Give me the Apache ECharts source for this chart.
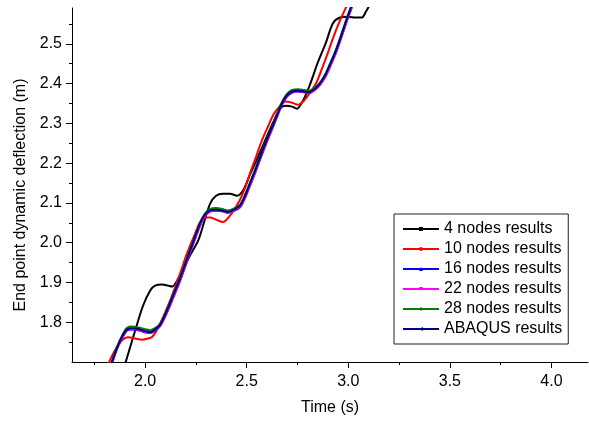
<!DOCTYPE html>
<html><head><meta charset="utf-8">
<script src="https://cdn.jsdelivr.net/npm/echarts@6/dist/echarts.min.js"></script>
<style>html,body{margin:0;padding:0;background:#fff}#c{width:589px;height:421px}</style>
</head><body><div id="c"></div>
<script>
const seriesNames = ['4 nodes results','10 nodes results','16 nodes results','22 nodes results','28 nodes results','ABAQUS results'];
const xLabelValues = [2.0, 2.5, 3.0, 3.5, 4.0];
const xMinorValues = [1.75, 2.25, 2.75, 3.25, 3.75];
const yLabelValues = [1.8, 1.9, 2.0, 2.1, 2.2, 2.3, 2.4, 2.5];
const yMinorValues = [1.75, 1.85, 1.95, 2.05, 2.15, 2.25, 2.35, 2.45, 2.55];

const time4 = [1.892,1.951,1.990,2.025,2.049,2.084,2.113,2.133,2.152,2.182,2.221,2.261,2.290,2.320,2.349,2.383,2.418,2.452,2.482,2.516,2.556,2.595,2.634,2.664,2.693,2.723,2.747,2.777,2.811,2.850,2.890,2.924,2.959,2.998,3.037,3.067,3.087,3.111];
const nodes4 = [1.679,1.779,1.842,1.880,1.892,1.895,1.892,1.890,1.900,1.930,1.968,2.005,2.051,2.098,2.118,2.123,2.123,2.118,2.131,2.171,2.216,2.262,2.307,2.337,2.344,2.342,2.337,2.357,2.397,2.453,2.503,2.551,2.566,2.568,2.566,2.566,2.581,2.603];

const time10 = [1.808,1.828,1.853,1.882,1.916,1.951,1.985,2.015,2.034,2.054,2.074,2.098,2.123,2.147,2.172,2.206,2.246,2.270,2.295,2.320,2.349,2.383,2.418,2.442,2.467,2.492,2.516,2.546,2.575,2.605,2.634,2.664,2.693,2.723,2.752,2.782,2.811,2.841,2.870,2.900,2.929,2.959,2.993];
const nodes10 = [1.679,1.706,1.731,1.752,1.762,1.759,1.756,1.759,1.763,1.777,1.797,1.824,1.855,1.887,1.922,1.973,2.023,2.051,2.063,2.063,2.058,2.052,2.068,2.086,2.108,2.138,2.174,2.216,2.257,2.292,2.324,2.344,2.355,2.352,2.347,2.357,2.377,2.400,2.437,2.478,2.520,2.558,2.596];

const timeFine = [1.823,1.843,1.862,1.887,1.911,1.936,1.966,1.995,2.025,2.049,2.074,2.103,2.138,2.172,2.221,2.270,2.295,2.320,2.349,2.379,2.408,2.438,2.467,2.492,2.516,2.541,2.565,2.595,2.624,2.649,2.673,2.698,2.723,2.752,2.782,2.806,2.831,2.860,2.885,2.909,2.939,2.968,2.993,3.018];
const nodes16 = [1.676,1.706,1.733,1.760,1.779,1.782,1.780,1.775,1.773,1.779,1.790,1.819,1.861,1.904,1.974,2.042,2.067,2.078,2.080,2.079,2.075,2.080,2.089,2.113,2.143,2.175,2.208,2.248,2.284,2.316,2.346,2.367,2.377,2.380,2.378,2.376,2.382,2.396,2.415,2.441,2.477,2.519,2.557,2.592];
const nodes22 = [1.677,1.707,1.734,1.761,1.780,1.783,1.781,1.776,1.774,1.780,1.791,1.820,1.862,1.905,1.975,2.043,2.068,2.079,2.081,2.080,2.076,2.081,2.090,2.114,2.144,2.176,2.209,2.249,2.285,2.317,2.347,2.368,2.378,2.381,2.379,2.377,2.383,2.397,2.416,2.442,2.478,2.520,2.558,2.593];
const nodes28 = [1.681,1.711,1.739,1.767,1.786,1.789,1.787,1.783,1.780,1.785,1.796,1.826,1.869,1.912,1.982,2.050,2.074,2.085,2.087,2.085,2.081,2.086,2.095,2.120,2.151,2.183,2.216,2.256,2.291,2.323,2.353,2.374,2.384,2.386,2.384,2.382,2.388,2.402,2.422,2.449,2.485,2.527,2.565,2.600];
const abaqus = [1.679,1.709,1.736,1.764,1.782,1.785,1.783,1.778,1.775,1.782,1.794,1.824,1.867,1.910,1.980,2.048,2.071,2.081,2.083,2.081,2.077,2.083,2.093,2.118,2.149,2.181,2.214,2.254,2.289,2.320,2.350,2.370,2.380,2.382,2.380,2.378,2.385,2.400,2.420,2.447,2.483,2.525,2.563,2.598];

const colors = ['#000000','#ff0000','#0000ff','#ff00ff','#008000','#000080'];
const symbols = ['rect','circle','triangle','triangle','diamond','triangle'];
const rotates = [0,0,0,180,0,90];
const times = [time4, time10, timeFine, timeFine, timeFine, timeFine];
const values = [nodes4, nodes10, nodes16, nodes22, nodes28, abaqus];

const FONT = 'Liberation Sans, Arial, sans-serif';
const chart = echarts.init(document.getElementById('c'), null, {renderer: 'canvas'});
const axisCommon = {
  axisLine: {show: true, onZero: false, lineStyle: {color: '#000', width: 1}},
  splitLine: {show: false}
};
chart.setOption({
  animation: false,
  backgroundColor: '#fff',
  grid: {left: 72, right: 1, top: 8, bottom: 59},
  xAxis: [
    Object.assign({}, axisCommon, {
      type: 'value', min: 1.64, max: 4.18, position: 'bottom',
      name: 'Time (s)', nameLocation: 'middle', nameGap: 38,
      nameTextStyle: {fontSize: 16, fontFamily: FONT, color: '#000'},
      axisTick: {show: true, length: 6, customValues: xLabelValues, lineStyle: {color: '#000'}},
      axisLabel: {customValues: xLabelValues, fontSize: 16, fontFamily: FONT, color: '#000', margin: 12,
        formatter: v => v.toFixed(1)}
    }),
    {
      type: 'value', min: 1.64, max: 4.18, position: 'bottom', gridIndex: 0,
      axisLine: {show: false}, splitLine: {show: false},
      axisTick: {show: true, length: 3, customValues: xMinorValues, lineStyle: {color: '#000'}},
      axisLabel: {show: false}
    }
  ],
  yAxis: [
    Object.assign({}, axisCommon, {
      type: 'value', min: 1.70, max: 2.59, position: 'left',
      name: 'End point dynamic deflection (m)', nameLocation: 'middle', nameGap: 42,
      nameTextStyle: {fontSize: 16, fontFamily: FONT, color: '#000', padding: [0, 20, 0, 0]},
      axisTick: {show: true, length: 6, customValues: yLabelValues, lineStyle: {color: '#000'}},
      axisLabel: {customValues: yLabelValues, fontSize: 16, fontFamily: FONT, color: '#000', margin: 10,
        formatter: v => v.toFixed(1)}
    }),
    {
      type: 'value', min: 1.70, max: 2.59, position: 'left', gridIndex: 0,
      axisLine: {show: false}, splitLine: {show: false},
      axisTick: {show: true, length: 3, customValues: yMinorValues, lineStyle: {color: '#000'}},
      axisLabel: {show: false}
    }
  ],
  legend: {
    orient: 'vertical', left: 394, top: 214,
    padding: [7, 6, 7, 8], itemGap: 4, itemWidth: 36, itemHeight: 5,
    borderColor: '#222', borderWidth: 1, borderRadius: 0, backgroundColor: '#fff',
    textStyle: {fontSize: 16, fontFamily: FONT, color: '#000', lineHeight: 16},
    data: seriesNames
  },
  series: seriesNames.map((name, i) => ({
    name: name, type: 'line', xAxisIndex: 0, yAxisIndex: 0,
    data: times[i].map((t, j) => [t, values[i][j]]),
    smooth: 0.3, showSymbol: false, symbol: symbols[i], symbolRotate: rotates[i], symbolSize: 4,
    clip: true,
    lineStyle: {color: colors[i], width: 2},
    itemStyle: {color: colors[i]},
    z: 2 + i
  }))
});
</script></body></html>
